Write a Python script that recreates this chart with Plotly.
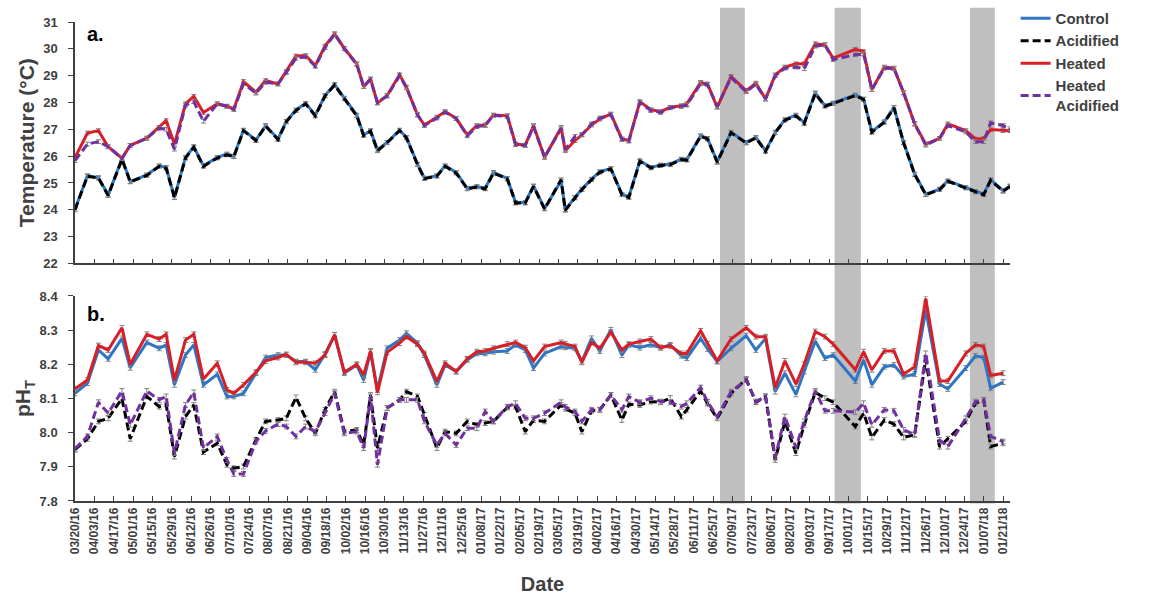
import plotly.graph_objects as go
from plotly.subplots import make_subplots

dates = [
    "2016-03-20","2016-03-29","2016-04-06","2016-04-13","2016-04-23","2016-04-29","2016-05-11","2016-05-20",
    "2016-05-25","2016-05-31","2016-06-08","2016-06-14","2016-06-21","2016-07-01","2016-07-08","2016-07-13",
    "2016-07-20","2016-07-29","2016-08-05","2016-08-14","2016-08-20","2016-08-27","2016-09-03",
    "2016-09-10","2016-09-17","2016-09-24","2016-10-01","2016-10-10","2016-10-15","2016-10-20","2016-10-25",
    "2016-11-01","2016-11-10","2016-11-15","2016-11-23","2016-11-28","2016-12-07","2016-12-13","2016-12-21",
    "2016-12-29","2017-01-05","2017-01-11","2017-01-17","2017-01-27","2017-02-02","2017-02-09","2017-02-15","2017-02-23",
    "2017-03-07","2017-03-10","2017-03-17","2017-03-22","2017-03-29","2017-04-04","2017-04-12","2017-04-20",
    "2017-04-25","2017-05-03","2017-05-11","2017-05-18","2017-05-25","2017-06-02","2017-06-06","2017-06-16",
    "2017-06-21","2017-06-28","2017-07-08","2017-07-19","2017-07-26","2017-08-02","2017-08-09","2017-08-16",
    "2017-08-24","2017-08-30","2017-09-07","2017-09-14","2017-09-20","2017-10-06","2017-10-12","2017-10-18",
    "2017-10-27","2017-11-03","2017-11-10","2017-11-18","2017-11-26","2017-12-06","2017-12-12","2017-12-25",
    "2018-01-01","2018-01-07","2018-01-12","2018-01-21","2018-01-26",
]

temp_control = [
    24.02, 25.27, 25.2, 24.55, 25.9, 25.05, 25.3, 25.64, 25.58, 24.46, 25.95, 26.35, 25.64, 25.95, 26.08, 26.0,
    26.97, 26.6, 27.14, 26.64, 27.3, 27.72, 27.97,
    27.53, 28.26, 28.67, 28.16, 27.53, 26.79, 26.95, 26.23, 26.51, 26.97, 26.7, 25.7, 25.18, 25.27, 25.64, 25.39,
    24.8, 24.87, 24.8, 25.39, 25.17, 24.27, 24.27, 24.89, 24.05,
    25.08, 24.0, 24.46, 24.77, 25.14, 25.42, 25.54, 24.58, 24.48, 25.83, 25.58, 25.67, 25.7, 25.89, 25.87, 26.76,
    26.66, 25.79, 26.89, 26.51, 26.7, 26.2, 26.89, 27.36,
    27.53, 27.24, 28.36, 27.88, 27.98, 28.28, 28.13, 26.91, 27.28, 27.82, 26.51, 25.33, 24.58, 24.77, 25.08, 24.83,
    24.68, 24.58, 25.12, 24.71, 24.89,
]
temp_acidified = [
    24.0, 25.25, 25.18, 24.53, 25.88, 25.04, 25.28, 25.62, 25.55, 24.45, 25.93, 26.33, 25.62, 25.93, 26.05, 25.98,
    26.95, 26.58, 27.12, 26.62, 27.28, 27.7, 27.95,
    27.5, 28.24, 28.65, 28.14, 27.5, 26.77, 26.93, 26.2, 26.5, 26.95, 26.68, 25.68, 25.16, 25.25, 25.62, 25.37,
    24.78, 24.85, 24.78, 25.37, 25.15, 24.25, 24.25, 24.87, 24.03,
    25.12, 23.98, 24.44, 24.75, 25.12, 25.4, 25.52, 24.56, 24.46, 25.8, 25.56, 25.65, 25.68, 25.87, 25.85, 26.74,
    26.64, 25.77, 26.87, 26.49, 26.68, 26.18, 26.87, 27.34,
    27.5, 27.22, 28.33, 27.86, 27.96, 28.26, 28.11, 26.89, 27.26, 27.8, 26.49, 25.31, 24.56, 24.75, 25.06, 24.81,
    24.66, 24.56, 25.1, 24.69, 24.87,
]
temp_heated = [
    25.95, 26.86, 26.95, 26.35, 25.92, 26.4, 26.67, 27.07, 27.32, 26.45, 27.95, 28.23, 27.63, 27.95, 27.86, 27.76,
    28.78, 28.38, 28.82, 28.69, 29.15, 29.73, 29.75,
    29.38, 30.1, 30.56, 30.02, 29.44, 28.59, 28.88, 27.98, 28.26, 29.03, 28.57, 27.53, 27.16, 27.45, 27.66, 27.41,
    26.79, 27.14, 27.16, 27.53, 27.51, 26.45, 26.41, 27.14, 25.95,
    27.07, 26.2, 26.58, 26.79, 27.16, 27.38, 27.57, 26.64, 26.58, 28.03, 27.73, 27.66, 27.82, 27.88, 27.95, 28.75,
    28.69, 27.82, 28.97, 28.44, 28.72, 28.13, 29.03, 29.32,
    29.44, 29.44, 30.19, 30.15, 29.65, 29.98, 29.9, 28.48, 29.32, 29.28, 28.36, 27.2, 26.45, 26.66, 27.2, 26.95,
    26.64, 26.66, 26.99, 26.95, 26.95,
]
temp_heated_acidified = [
    25.83, 26.45, 26.54, 26.35, 25.92, 26.4, 26.67, 27.04, 27.0, 26.26, 27.9, 28.03, 27.3, 27.95, 27.86, 27.74,
    28.7, 28.35, 28.75, 28.69, 29.12, 29.65, 29.7,
    29.35, 30.05, 30.55, 30.0, 29.42, 28.6, 28.85, 28.0, 28.24, 29.0, 28.55, 27.55, 27.14, 27.42, 27.64, 27.4,
    26.76, 27.1, 27.14, 27.52, 27.48, 26.43, 26.4, 27.1, 25.97,
    27.02, 26.25, 26.73, 26.8, 27.2, 27.42, 27.55, 26.62, 26.56, 28.0, 27.7, 27.63, 27.8, 27.85, 27.9, 28.7,
    28.66, 27.85, 28.93, 28.4, 28.68, 28.13, 29.0, 29.28,
    29.32, 29.26, 30.1, 30.15, 29.6, 29.78, 29.81, 28.48, 29.28, 29.26, 28.36, 27.2, 26.41, 26.66, 27.14, 26.9,
    26.54, 26.54, 27.24, 27.14, 27.02,
]

ph_control = [
    8.115, 8.145, 8.242, 8.216, 8.276, 8.19, 8.264, 8.247, 8.257, 8.14, 8.227, 8.257, 8.14, 8.171, 8.106, 8.106,
    8.115, 8.174, 8.22, 8.227, 8.227, 8.208, 8.208,
    8.184, 8.23, 8.286, 8.174, 8.198, 8.154, 8.237, 8.125, 8.247, 8.271, 8.291, 8.262, 8.227, 8.14, 8.198, 8.179,
    8.213, 8.232, 8.232, 8.237, 8.239, 8.257, 8.242, 8.189, 8.232,
    8.252, 8.25, 8.247, 8.208, 8.276, 8.239, 8.301, 8.227, 8.257, 8.249, 8.257, 8.249, 8.257, 8.225, 8.218, 8.276,
    8.245, 8.208, 8.247, 8.284, 8.242, 8.276, 8.12, 8.174,
    8.112, 8.179, 8.268, 8.218, 8.227, 8.151, 8.213, 8.14, 8.193, 8.198, 8.164, 8.171, 8.359, 8.142, 8.128, 8.189,
    8.225, 8.22, 8.13, 8.148, None,
]
ph_acidified = [
    7.95, 7.982, 8.033, 8.042, 8.1, 7.982, 8.106, 8.076, 8.083, 7.93, 8.047, 8.081, 7.943, 7.969, 7.906, 7.896,
    7.901, 7.979, 8.033, 8.037, 8.042, 8.103, 8.042,
    7.998, 8.067, 8.12, 8.003, 8.008, 7.964, 8.11, 7.955, 8.072, 8.096, 8.12, 8.106, 8.052, 7.955, 8.003, 7.998,
    8.033, 8.023, 8.028, 8.033, 8.074, 8.076, 8.003, 8.037, 8.033,
    8.081, 8.07, 8.057, 8.003, 8.064, 8.067, 8.11, 8.037, 8.083, 8.081, 8.091, 8.089, 8.101, 8.047, 8.067, 8.122,
    8.085, 8.042, 8.115, 8.157, 8.089, 8.106, 7.92, 8.033,
    7.94, 8.023, 8.118, 8.101, 8.089, 8.018, 8.057, 7.986, 8.037, 8.025, 7.986, 7.994, 8.216, 7.959, 7.982, 8.033,
    8.086, 8.096, 7.959, 7.969, None,
]
ph_heated = [
    8.128, 8.154, 8.255, 8.242, 8.307, 8.2, 8.288, 8.274, 8.288, 8.154, 8.271, 8.288, 8.157, 8.203, 8.125, 8.115,
    8.14, 8.177, 8.21, 8.22, 8.229, 8.206, 8.206,
    8.203, 8.227, 8.286, 8.177, 8.2, 8.169, 8.239, 8.118, 8.235, 8.262, 8.281, 8.259, 8.232, 8.15, 8.203, 8.179,
    8.216, 8.237, 8.239, 8.247, 8.259, 8.264, 8.249, 8.21, 8.252,
    8.264, 8.26, 8.252, 8.206, 8.264, 8.247, 8.294, 8.242, 8.259, 8.267, 8.274, 8.249, 8.254, 8.232, 8.232, 8.298,
    8.26, 8.21, 8.274, 8.307, 8.281, 8.281, 8.132, 8.21,
    8.142, 8.2, 8.296, 8.281, 8.259, 8.184, 8.237, 8.184, 8.239, 8.239, 8.171, 8.193, 8.393, 8.151, 8.151, 8.232,
    8.257, 8.252, 8.167, 8.174, None,
]
ph_heated_acidified = [
    7.953, 7.989, 8.089, 8.057, 8.122, 8.023, 8.122, 8.096, 8.106, 7.94, 8.081, 8.118, 7.955, 7.989, 7.92, 7.879,
    7.879, 7.974, 8.005, 8.025, 8.018, 7.989, 8.018,
    8.003, 8.057, 8.115, 7.998, 8.003, 7.955, 8.106, 7.906, 8.072, 8.096, 8.096, 8.096, 8.033, 7.964, 7.998, 7.964,
    8.013, 8.013, 8.062, 8.033, 8.076, 8.086, 8.042, 8.042, 8.057,
    8.089, 8.075, 8.062, 8.033, 8.067, 8.067, 8.11, 8.067, 8.106, 8.089, 8.101, 8.091, 8.089, 8.076, 8.086, 8.132,
    8.09, 8.047, 8.12, 8.154, 8.091, 8.106, 7.927, 8.047,
    7.957, 8.033, 8.122, 8.064, 8.064, 8.06, 8.086, 8.023, 8.067, 8.064, 8.008, 7.994, 8.232, 7.979, 7.959, 8.042,
    8.091, 8.096, 7.989, 7.974, None,
]

series_names = ["Control", "Acidified", "Heated", "Heated<br>Acidified"]
shaded_periods = [("2017-06-30", "2017-07-18"), ("2017-09-21", "2017-10-10"), ("2017-12-28", "2018-01-15")]

colors = ["#2e75c3", "#000000", "#d61f26", "#7030a0"]
dashes = ["solid", "8px,4px", "solid", "8px,4px"]

FONT = "Arial, Liberation Sans, sans-serif"

fig = make_subplots(rows=2, cols=1, shared_xaxes=True)

temp_series = [temp_control, temp_acidified, temp_heated, temp_heated_acidified]
ph_series = [ph_control, ph_acidified, ph_heated, ph_heated_acidified]

for i, (name, ys) in enumerate(zip(series_names, temp_series)):
    fig.add_trace(go.Scatter(
        x=dates, y=ys, mode="lines", name=name, legendgroup=name,
        line=dict(color=colors[i], width=3, dash=dashes[i]),
        error_y=dict(type="constant", value=0.07, color="#808080", thickness=1, width=2.5),
        showlegend=True,
    ), row=1, col=1)

for i, (name, ys) in enumerate(zip(series_names, ph_series)):
    fig.add_trace(go.Scatter(
        x=dates, y=ys, mode="lines", name=name, legendgroup=name,
        line=dict(color=colors[i], width=3, dash=dashes[i]),
        error_y=dict(type="constant", value=0.007, color="#808080", thickness=1, width=2.5),
        showlegend=False, connectgaps=False,
    ), row=2, col=1)

for x0, x1 in shaded_periods:
    fig.add_shape(type="rect", xref="x", yref="paper", x0=x0, x1=x1, y0=-0.005, y1=1.03,
                  fillcolor="#bfbfbf", line_width=0, layer="below")

axis_common = dict(showgrid=False, zeroline=False, showline=True, linecolor="#404040", linewidth=1.5,
                   ticks="outside", ticklen=5, tickcolor="#404040", automargin=False,
                   tickfont=dict(family=FONT, size=13, color="#404040", weight="bold"))

fig.update_layout(
    width=1149, height=598,
    margin=dict(l=75, r=139, t=22, b=97, autoexpand=False),
    paper_bgcolor="white", plot_bgcolor="rgba(0,0,0,0)",
    font=dict(family=FONT, color="#404040"),
    legend=dict(x=1.006, y=1.042, xanchor="left", yanchor="top",
                font=dict(family=FONT, size=15, color="#404040", weight="bold"),
                bgcolor="rgba(0,0,0,0)", tracegroupgap=0),
    xaxis=dict(**{**axis_common, "ticks": "inside", "ticklen": 5},
               range=["2016-03-20", "2018-01-26"], tick0="2016-03-20", dtick=14 * 86400000,
               showticklabels=False),
    xaxis2=dict(**{**axis_common, "ticks": "inside", "ticklen": 5,
                   "tickfont": dict(family=FONT, size=12, color="#404040", weight="bold")},
                range=["2016-03-20", "2018-01-26"], tick0="2016-03-20", dtick=14 * 86400000,
                tickformat="%m/%d/%y", tickangle=-90,
                title=dict(text="Date", font=dict(family=FONT, size=20, color="#404040", weight="bold"), standoff=24)),
    yaxis=dict(**axis_common, domain=[0.496, 1.0], range=[22, 31], dtick=1, ticklabelstandoff=8,
               title=dict(text="Temperature (°C)", font=dict(family=FONT, size=21, color="#404040", weight="bold"),
                          standoff=3)),
    yaxis2=dict(**axis_common, domain=[0.0, 0.428], range=[7.8, 8.4], dtick=0.1, tickformat=".1f",
                ticklabelstandoff=8,
                title=dict(text="pH<sub>T</sub>", font=dict(family=FONT, size=21, color="#404040", weight="bold"),
                           standoff=3)),
    annotations=[
        dict(text="a.", xref="paper", yref="paper", x=0.011, y=0.975, xanchor="left", yanchor="middle",
             showarrow=False, font=dict(family=FONT, size=20, color="#000000", weight="bold")),
        dict(text="b.", xref="paper", yref="paper", x=0.011, y=0.39, xanchor="left", yanchor="middle",
             showarrow=False, font=dict(family=FONT, size=20, color="#000000", weight="bold")),
    ],
)

fig.write_html("out.html", config={"displayModeBar": False},
               post_script="document.body.style.margin='0';")
